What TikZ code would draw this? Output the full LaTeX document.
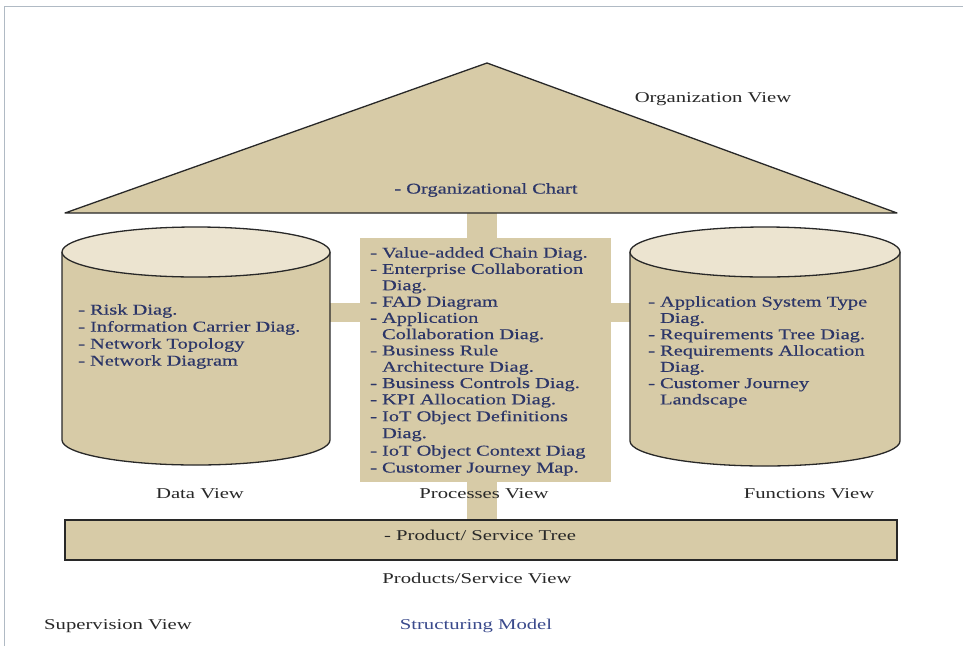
\documentclass[tikz,border=0pt]{standalone}
\usepackage{fontspec}
\setmainfont{Liberation Serif}[FakeStretch=1.38]
\newfontfamily\itemfont{Liberation Serif}[FakeStretch=1.36, FakeBold=0.35]
\definecolor{tan}{RGB}{215,203,167}
\definecolor{tanlight}{RGB}{236,228,208}
\definecolor{navy}{RGB}{44,54,104}
\definecolor{dark}{RGB}{40,40,40}
\definecolor{bluetxt}{RGB}{58,74,140}
\definecolor{framec}{RGB}{176,186,196}
\newcommand{\ind}{\phantom{- }}
\tikzset{
  outl/.style={draw=dark, line width=1.3pt},
  itemtxt/.style={inner sep=0pt, anchor=north west, align=left, text=navy, font=\itemfont\fontsize{15}{16.3}\selectfont},
  lbl/.style={inner sep=0pt, text=dark, font=\fontsize{15}{17}\selectfont},
}
\begin{document}
\begin{tikzpicture}[x=1pt,y=-1pt]
\useasboundingbox (0,0) rectangle (963,646);
\fill[white] (0,0) rectangle (963,646);
% frame
\draw[framec, line width=1pt] (4,646) -- (4,6) -- (963,6);
% central column and horizontal bar
\fill[tan] (467,213) rectangle (497,520);
\fill[tan] (330,303) rectangle (630,322);
% processes box
\fill[tan] (360,238) rectangle (611,482);
% roof
\filldraw[fill=tan, draw=dark, line width=1.3pt, line join=round] (65,213) -- (487,63) -- (897,213) -- cycle;
% left cylinder
\fill[tan] (62,252) rectangle (330,440);
\fill[tan] (196,440) ellipse[x radius=134, y radius=25];
\draw[outl] (62,252) -- (62,440) arc[start angle=180, end angle=0, x radius=134, y radius=25] -- (330,252);
\filldraw[fill=tanlight, draw=dark, line width=1.3pt] (196,252) ellipse[x radius=134, y radius=25];
% right cylinder
\fill[tan] (630,252) rectangle (900,441);
\fill[tan] (765,441) ellipse[x radius=135, y radius=25];
\draw[outl] (630,252) -- (630,441) arc[start angle=180, end angle=0, x radius=135, y radius=25] -- (900,252);
\filldraw[fill=tanlight, draw=dark, line width=1.3pt] (765,252) ellipse[x radius=135, y radius=25];
% product box
\filldraw[fill=tan, draw=dark, line width=1.3pt] (65,520) rectangle (897,560);
% texts
\node[lbl] (orgview) at (713,99) {Organization View};
\node[lbl, text=navy, font=\itemfont\fontsize{15}{17}\selectfont] (orgchart) at (486,190) {- Organizational Chart};
\node[itemtxt] (datatxt) at (78,304) {%
- Risk Diag.\\[0.7pt]
- Information Carrier Diag.\\[0.7pt]
- Network Topology\\[0.7pt]
- Network Diagram};
\node[itemtxt] (proctxt) at (370,247) {%
- Value-added Chain Diag.\\
- Enterprise Collaboration\\
\ind Diag.\\
- FAD Diagram\\
- Application\\
\ind Collaboration Diag.\\
- Business Rule\\
\ind Architecture Diag.\\
- Business Controls Diag.\\
- KPI Allocation Diag.\\[0.6pt]
- IoT Object Definitions\\[0.6pt]
\ind Diag.\\[1.2pt]
- IoT Object Context Diag\\[0.6pt]
- Customer Journey Map.};
\node[itemtxt] (functxt) at (648,296) {%
- Application System Type\\
\ind Diag.\\
- Requirements Tree Diag.\\
- Requirements Allocation\\
\ind Diag.\\
- Customer Journey\\
\ind Landscape};
\node[lbl] (dataview) at (200,494) {Data View};
\node[lbl] (procview) at (484,494) {Processes View};
\node[lbl] (funcview) at (809,494) {Functions View};
\node[lbl] (prodtree) at (480,535) {- Product/ Service Tree};
\node[lbl] (prodview) at (477,578) {Products/Service View};
\node[lbl] (supview) at (118,626) {Supervision View};
\node[lbl, text=bluetxt] (structm) at (476,626) {Structuring Model};
\end{tikzpicture}
\end{document}
